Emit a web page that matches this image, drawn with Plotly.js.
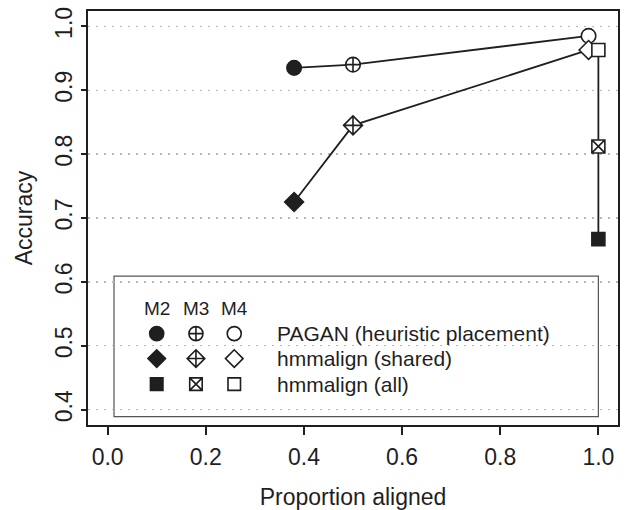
<!DOCTYPE html>
<html>
<head>
<meta charset="utf-8">
<script src="https://cdn.plot.ly/plotly-3.0.1.min.js"></script>
<style>
  html, body { margin: 0; padding: 0; background: #fff; }
  #chart { width: 627px; height: 510px; }
</style>
</head>
<body>
<div id="chart"></div>
<script>
// ---- Data ----
const methods = ["M2", "M3", "M4"];
const seriesNames = ["PAGAN (heuristic placement)", "hmmalign (shared)", "hmmalign (all)"];
const paganX = [0.38, 0.50, 0.98];
const paganY = [0.935, 0.940, 0.985];
const sharedX = [0.38, 0.50, 0.98];
const sharedY = [0.725, 0.845, 0.963];
const allX = [1.00, 1.00, 1.00];
const allY = [0.667, 0.812, 0.963];
const xTicks = [0.0, 0.2, 0.4, 0.6, 0.8, 1.0];
const yTicks = [0.4, 0.5, 0.6, 0.7, 0.8, 0.9, 1.0];

// ---- Styling ----
const INK = "#1f1f1f";
const FONT = "Liberation Sans, Arial, Helvetica, sans-serif";
const baseSymbols = ["circle", "diamond", "square"];
const m3Symbols = ["circle-cross", "diamond-cross", "square-x"];
const markerSizes = [14.5, 14.5, 13];
const legendSizes = [14, 13.5, 12.5];
const fills = [INK, "#ffffff", "#ffffff"];

function symbolsFor(i) { return [baseSymbols[i], m3Symbols[i], baseSymbols[i]]; }

const dataSets = [[paganX, paganY], [sharedX, sharedY], [allX, allY]];
const traces = dataSets.map(function (d, i) {
  return {
    type: "scatter", mode: "lines+markers",
    x: d[0], y: d[1], name: seriesNames[i], showlegend: false,
    line: { color: INK, width: 1.8 },
    marker: { symbol: symbolsFor(i), size: markerSizes[i], color: fills, opacity: 1,
              line: { color: INK, width: 1.6 } },
    hoverinfo: "x+y"
  };
});

// ---- Custom legend (layout positions in axis units) ----
const legendColX = [0.10, 0.18, 0.258];
const legendHeaderY = 0.558;
const legendRowY = [0.519, 0.480, 0.440];
const legendTextX = 0.341;
const legendBox = { x0: 0.013, x1: 1.0, y0: 0.389, y1: 0.609 };

const legX = [], legY = [], legSym = [], legSize = [], legFill = [];
for (let r = 0; r < 3; r++) {
  const syms = symbolsFor(r);
  for (let c = 0; c < 3; c++) {
    legX.push(legendColX[c]); legY.push(legendRowY[r]);
    legSym.push(syms[c]); legSize.push(legendSizes[r]); legFill.push(fills[c]);
  }
}
traces.push({
  type: "scatter", mode: "markers", x: legX, y: legY, showlegend: false, hoverinfo: "skip",
  marker: { symbol: legSym, size: legSize, color: legFill, opacity: 1,
            line: { color: INK, width: 1.6 } }
});

const annotations = [];
methods.forEach(function (m, c) {
  annotations.push({ x: legendColX[c], y: legendHeaderY, xref: "x", yref: "y", text: m,
    showarrow: false, xanchor: "center", yanchor: "middle", font: { family: FONT, size: 19, color: INK } });
});
seriesNames.forEach(function (s, r) {
  annotations.push({ x: legendTextX, y: legendRowY[r], xref: "x", yref: "y", text: s,
    showarrow: false, xanchor: "left", yanchor: "middle", font: { family: FONT, size: 21, color: INK } });
});

const layout = {
  width: 627, height: 510,
  margin: { l: 88, r: 9, t: 11, b: 85 },
  paper_bgcolor: "#ffffff", plot_bgcolor: "#ffffff",
  font: { family: FONT, size: 23, color: INK },
  showlegend: false,
  xaxis: {
    range: [-0.04, 1.04], tickvals: xTicks, tickformat: ".1f",
    showgrid: false, zeroline: false,
    showline: true, mirror: true, linecolor: INK, linewidth: 1.8,
    ticks: "outside", ticklen: 8, tickwidth: 1.8, tickcolor: INK,
    ticklabelstandoff: 3,
    tickfont: { family: FONT, size: 23, color: INK },
    title: { text: "Proportion aligned", font: { family: FONT, size: 23, color: INK }, standoff: 19 }
  },
  yaxis: {
    range: [0.376, 1.024], tickvals: yTicks, tickformat: ".1f", tickangle: -90,
    showgrid: true, gridcolor: "#b8b8b8", gridwidth: 1.3, griddash: "2px,6px",
    zeroline: false,
    showline: true, mirror: true, linecolor: INK, linewidth: 1.8,
    ticks: "outside", ticklen: 5, tickwidth: 1.8, tickcolor: INK,
    tickfont: { family: FONT, size: 23, color: INK },
    title: { text: "Accuracy", font: { family: FONT, size: 23, color: INK }, standoff: 12 }
  },
  shapes: [{
    type: "rect", xref: "x", yref: "y",
    x0: legendBox.x0, x1: legendBox.x1, y0: legendBox.y0, y1: legendBox.y1,
    line: { color: "#555555", width: 1.2 }, fillcolor: "#ffffff", layer: "below"
  }],
  annotations: annotations
};

Plotly.newPlot("chart", traces, layout, { displayModeBar: false, staticPlot: true });
</script>
</body>
</html>
